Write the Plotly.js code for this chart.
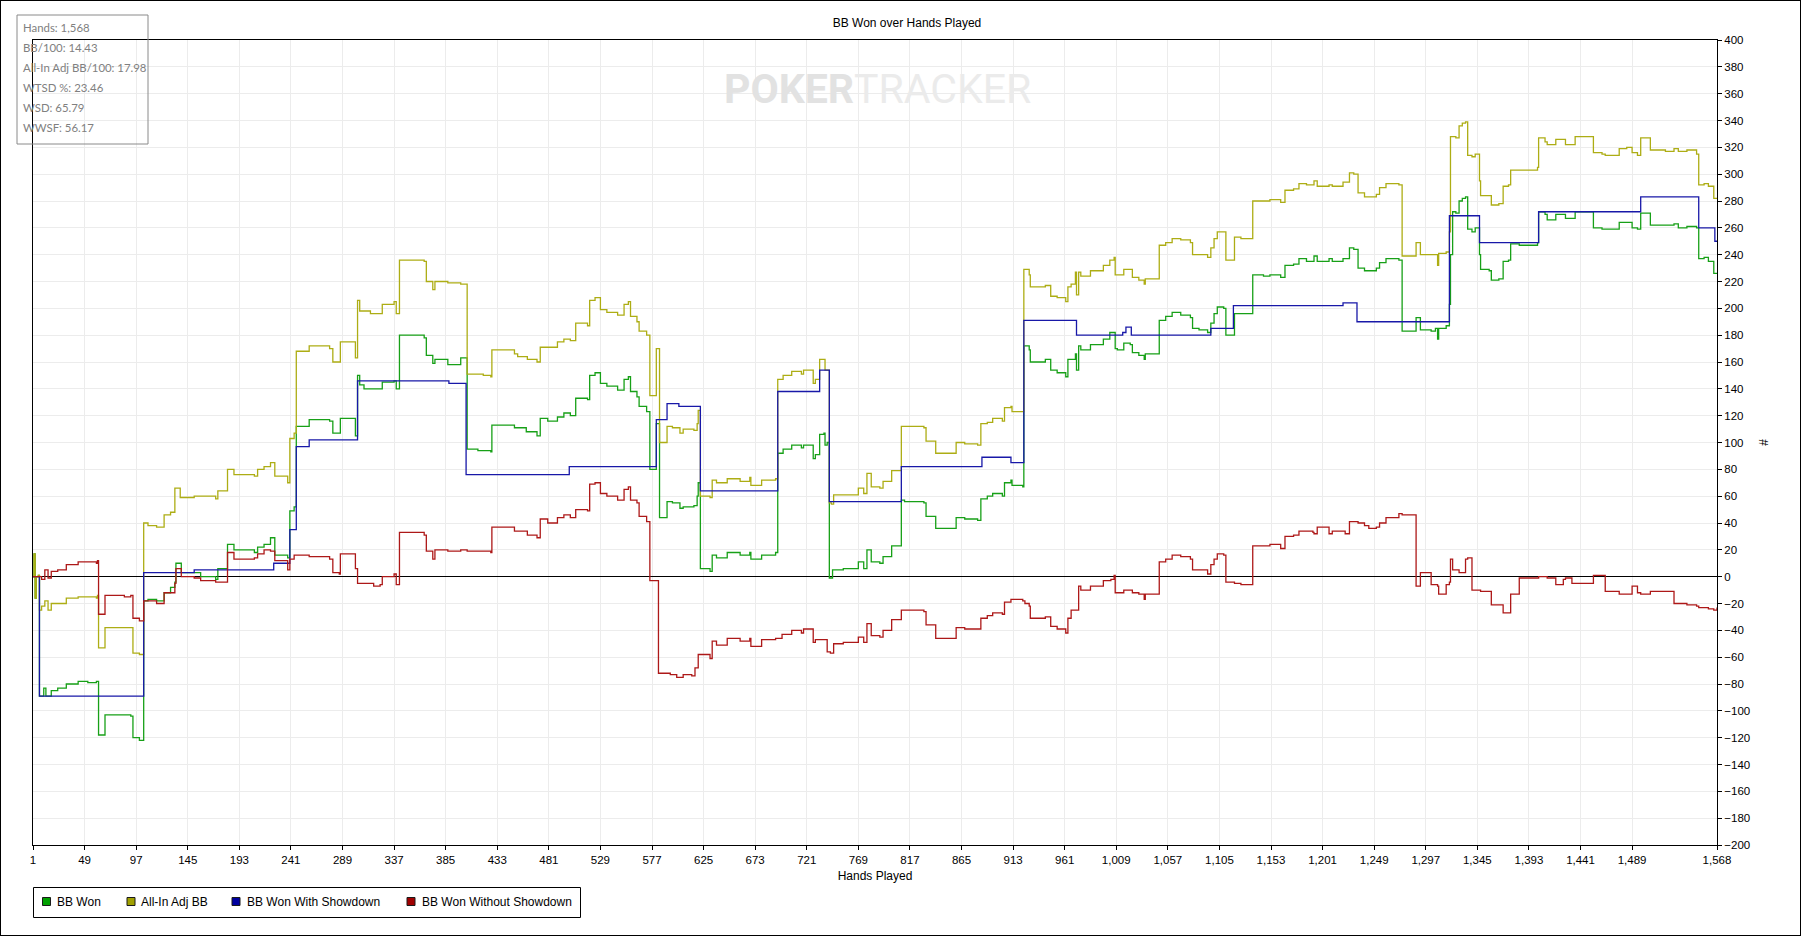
<!DOCTYPE html>
<html><head><meta charset="utf-8">
<script src="https://cdn.plot.ly/plotly-3.0.1.min.js"></script>
<style>
html,body{margin:0;padding:0;background:#fff;}
#wrap{position:relative;width:1801px;height:936px;}
#chart{width:1801px;height:936px;}
#frame{position:absolute;left:0;top:0;width:1801px;height:936px;box-sizing:border-box;border:1px solid #000;pointer-events:none;}
</style>
</head><body><div id="wrap"><div id="chart"></div><div id="frame"></div></div>
<script>
// ---------------- DATA ----------------
const seriesNames = ["BB Won", "All-In Adj BB", "BB Won With Showdown", "BB Won Without Showdown"];

const bbWonHands = [1,2,3,4,6,7,11,13,18,24,32,43,52,60,62,68,92,94,100,104,108,116,123,129,133,134,139,151,157,171,173,182,188,207,210,216,222,226,238,240,244,246,258,277,280,287,301,303,305,309,326,337,339,342,365,367,373,375,387,399,405,415,427,428,449,460,470,473,480,489,495,501,506,517,519,524,529,535,545,551,555,557,563,565,572,575,581,584,591,596,603,606,616,619,620,622,631,633,637,647,659,668,669,679,692,694,699,707,716,718,727,729,733,737,738,740,742,745,755,769,774,777,781,789,792,800,809,812,830,832,841,860,868,880,883,889,894,903,905,911,912,922,923,928,929,943,948,954,962,964,971,972,974,976,985,997,1003,1007,1008,1010,1016,1022,1024,1030,1035,1036,1049,1055,1061,1069,1078,1080,1086,1094,1097,1100,1103,1109,1111,1119,1136,1146,1152,1162,1166,1174,1179,1186,1193,1196,1207,1210,1220,1226,1230,1234,1240,1251,1254,1260,1272,1275,1288,1292,1302,1306,1308,1309,1316,1319,1320,1322,1325,1328,1331,1334,1336,1340,1343,1347,1348,1356,1358,1365,1369,1374,1376,1384,1401,1402,1408,1410,1418,1425,1427,1436,1453,1461,1464,1477,1484,1489,1494,1497,1506,1520,1528,1532,1540,1549,1551,1556,1560,1565,1568];
const bbWonValues = [0,17,-16,0,1,-89,-83,-89,-85,-83,-80,-78,-79,-78,-118,-103,-104,-120,-122,-18,-17,-18,-12,-8,-4,10,3,3,0,-2,6,24,20,18,22,24,29,16,14,49,52,112,117,116,107,118,105,150,143,140,145,146,140,180,178,165,159,162,158,163,95,94,93,113,111,108,105,118,116,119,122,120,133,132,150,152,144,142,139,147,149,138,134,127,123,80,114,44,56,55,51,52,53,60,70,6,4,16,14,18,16,18,13,16,18,92,95,98,96,98,88,91,106,107,98,100,-1,5,6,11,6,20,11,10,15,23,57,56,55,45,36,44,43,42,58,60,62,60,70,72,68,67,172,169,160,162,154,152,149,162,166,154,172,169,173,177,182,182,170,169,174,173,167,165,162,166,191,194,197,195,193,185,184,182,189,196,201,200,180,196,225,224,225,223,232,233,237,235,239,235,237,235,237,245,244,230,228,230,234,237,236,183,193,184,183,185,177,185,187,203,240,272,271,280,282,283,259,257,260,240,229,228,221,222,235,236,248,247,249,272,270,266,270,270,267,272,260,259,259,264,264,260,259,271,262,262,263,260,261,260,237,238,235,226,226];

const allInHands = [1,2,3,4,6,7,9,12,15,18,32,43,60,61,62,68,94,100,104,108,116,123,129,133,138,151,171,173,182,188,207,210,216,222,226,238,240,244,246,258,277,280,287,301,303,305,315,326,337,339,342,365,367,373,375,387,399,405,420,427,428,449,452,461,470,473,489,495,501,506,517,519,524,529,535,545,551,555,557,563,565,572,575,581,584,591,596,603,606,616,619,620,622,631,633,637,647,659,668,669,679,692,694,699,707,716,718,727,729,733,738,742,744,746,769,774,777,781,789,792,800,809,830,832,841,860,868,880,883,889,894,903,905,911,912,923,928,929,943,948,954,962,964,967,971,972,974,976,985,997,1003,1007,1008,1016,1024,1030,1035,1036,1049,1055,1061,1069,1078,1080,1094,1097,1100,1103,1109,1111,1119,1125,1136,1152,1162,1166,1174,1179,1186,1193,1196,1207,1210,1220,1226,1230,1234,1240,1251,1254,1260,1272,1275,1288,1292,1308,1309,1316,1319,1320,1325,1328,1331,1334,1336,1340,1343,1347,1348,1358,1365,1369,1374,1376,1401,1402,1408,1410,1418,1425,1427,1436,1453,1461,1464,1477,1484,1489,1494,1497,1506,1520,1528,1532,1540,1549,1551,1556,1560,1565,1568];
const allInValues = [0,17,-16,0,1,-25,-22,-18,-25,-20,-16,-15,-16,-14,-53,-38,-57,-58,40,38,37,46,48,66,59,60,58,64,80,76,75,80,82,85,75,70,103,107,168,172,170,160,175,163,206,198,196,203,205,196,236,235,220,214,220,219,218,151,150,149,169,166,164,162,160,171,175,177,176,189,187,206,208,199,197,195,203,205,194,190,183,180,135,170,100,112,111,107,110,109,114,124,60,59,72,70,73,71,74,68,72,73,147,150,153,151,154,144,147,162,154,55,54,61,66,62,77,67,66,71,79,112,111,101,92,100,99,98,114,115,118,116,126,127,123,229,225,216,217,209,208,205,216,218,227,210,227,224,228,232,236,238,225,229,223,221,218,222,247,249,252,251,249,240,238,245,252,257,257,236,253,252,280,281,279,288,289,293,292,295,291,292,291,294,301,300,286,283,285,290,293,292,239,249,240,232,241,242,257,328,327,336,338,339,314,313,315,295,284,277,278,291,292,303,305,327,324,322,326,326,322,328,316,315,314,319,320,316,314,327,318,317,319,317,318,315,292,293,291,282,282];

const withSdHands = [1,7,104,151,225,240,246,258,303,388,404,500,581,591,602,622,694,733,742,809,884,911,923,972,1015,1018,1023,1097,1118,1220,1233,1319,1347,1402,1497,1551,1566,1568];
const withSdValues = [0,-89,3,5,10,35,97,102,146,144,76,82,117,129,127,64,138,154,56,82,89,85,191,180,182,186,180,185,202,204,190,269,249,272,283,260,250,250];

const withoutSdHands = [1,7,9,12,15,18,24,32,43,60,61,62,68,86,92,94,100,104,116,123,133,134,139,151,157,171,182,188,207,210,216,222,226,238,240,244,258,277,280,286,287,301,303,318,324,326,337,339,342,365,367,373,375,387,399,405,427,428,449,461,470,473,480,489,495,501,506,517,519,524,529,535,545,551,555,557,563,565,572,575,583,594,600,606,614,617,620,631,633,637,647,659,668,669,679,692,698,707,716,718,727,729,740,743,746,755,769,774,777,781,789,792,800,809,830,832,841,860,868,880,883,889,894,903,905,911,922,924,928,929,943,948,954,962,964,967,974,976,985,997,1004,1007,1008,1016,1024,1030,1035,1036,1049,1055,1061,1069,1078,1080,1094,1097,1100,1103,1109,1111,1119,1125,1136,1152,1162,1166,1174,1179,1186,1192,1193,1196,1207,1210,1222,1226,1230,1234,1240,1244,1251,1254,1260,1272,1275,1288,1292,1302,1308,1309,1316,1319,1320,1322,1328,1334,1336,1340,1348,1358,1369,1376,1384,1392,1402,1410,1418,1425,1427,1433,1436,1453,1464,1477,1489,1494,1497,1506,1528,1532,1540,1549,1551,1560,1565,1568];
const withoutSdValues = [0,0,-2,5,-1,4,5,9,11,10,12,-28,-14,-15,-14,-31,-33,-18,-20,-12,-5,6,0,-1,-3,-4,18,13,14,17,20,19,12,5,13,16,15,13,3,2,17,6,-5,-7,-6,0,2,-6,33,31,19,13,20,19,20,19,18,37,34,31,29,43,40,44,46,44,50,49,69,70,62,60,57,65,67,57,55,45,41,-3,-72,-73,-75,-73,-74,-68,-58,-61,-48,-51,-46,-48,-46,-52,-47,-46,-43,-40,-42,-39,-49,-47,-56,-57,-50,-49,-45,-49,-35,-44,-45,-40,-32,-25,-26,-36,-46,-38,-39,-39,-31,-29,-27,-28,-19,-17,-18,-20,-22,-31,-30,-37,-39,-42,-31,-25,-7,-10,-7,-3,-2,1,-12,-10,-12,-13,-17,-13,11,13,16,15,13,5,2,9,13,17,16,-4,-5,-6,23,24,21,30,31,34,34,33,32,37,32,34,32,41,41,40,38,36,37,40,44,47,46,-7,3,-6,-7,-13,-6,-4,13,5,3,13,14,-10,-11,-21,-27,-13,-1,-1,0,-1,-6,-2,-1,-5,-5,1,-11,-13,-7,-12,-13,-11,-20,-20,-21,-22,-23,-24,-25,-23,-23];

const xTickVals = [1,49,97,145,193,241,289,337,385,433,481,529,577,625,673,721,769,817,865,913,961,1009,1057,1105,1153,1201,1249,1297,1345,1393,1441,1489,1568];

const statLabels = ["Hands", "BB/100", "All-In Adj BB/100", "WTSD %", "WSD", "WWSF"];
const statValues = ["1,568", "14.43", "17.98", "23.46", "65.79", "56.17"];

// ---------------- STYLE / LAYOUT ----------------
const colors = ["#17a017", "#adad14", "#1818a8", "#ad1818"];
const swatchColors = ["#00a000", "#a0a000", "#0000a0", "#a00000"];
const W = 1801, H = 936, L = 33, R = 84, T = 40, B = 91;
const PW = W - L - R, PH = H - T - B;
const fx = px => (px - L) / PW;
const fy = py => (H - B - py) / PH;
const FONT = "Liberation Sans, Arial, sans-serif";

const xs = [bbWonHands, allInHands, withSdHands, withoutSdHands];
const ys = [bbWonValues, allInValues, withSdValues, withoutSdValues];

const traces = [];
for (let i = 0; i < 4; i++) {
  traces.push({
    type: "scatter", mode: "lines", x: xs[i], y: ys[i], name: seriesNames[i],
    line: {color: colors[i], width: 1.3, shape: "hv"},
    showlegend: false, hoverinfo: "x+y+name"
  });
}

const annotations = [];
const shapes = [];

// stats box
for (let i = 0; i < statLabels.length; i++) {
  annotations.push({
    xref: "paper", yref: "paper", x: fx(21), y: fy(27.5 + 20 * i),
    xanchor: "left", yanchor: "middle", showarrow: false,
    text: statLabels[i] + ": " + statValues[i],
    font: {family: "Lato, Noto Sans, sans-serif", size: 11.4, color: "#808080"}
  });
}
shapes.push({
  type: "rect", xref: "paper", yref: "paper",
  x0: fx(17), x1: fx(148), y0: fy(15), y1: fy(144),
  line: {color: "#8a8a8a", width: 1}, fillcolor: "rgba(0,0,0,0)", layer: "above"
});

// watermark
annotations.push({
  xref: "paper", yref: "paper", x: fx(878), y: fy(89),
  xanchor: "center", yanchor: "middle", showarrow: false,
  text: '<b><span style="color:#e2e2e2">POKER</span></b><span style="color:#ebebeb">TRACKER</span>',
  font: {family: "Roboto, sans-serif", size: 41, color: "#e6e6e6"}
});

// legend (box, swatches, labels)
const legendSwatchX = [42.5, 127, 232, 407];
const legendTextX = [55, 138.5, 245, 419.5];
shapes.push({
  type: "rect", xref: "paper", yref: "paper",
  x0: fx(33.5), x1: fx(580.5), y0: fy(887.5), y1: fy(917.5),
  line: {color: "#000", width: 1}, fillcolor: "#fff", layer: "above"
});
for (let i = 0; i < 4; i++) {
  shapes.push({
    type: "rect", xref: "paper", yref: "paper",
    x0: fx(legendSwatchX[i]), x1: fx(legendSwatchX[i] + 8), y0: fy(897.5), y1: fy(905.5),
    line: {color: "#1a1a1a", width: 1}, fillcolor: swatchColors[i], layer: "above"
  });
  annotations.push({
    xref: "paper", yref: "paper", x: fx(legendTextX[i]), y: fy(902),
    xanchor: "left", yanchor: "middle", showarrow: false,
    text: seriesNames[i], font: {family: FONT, size: 12, color: "#000"}
  });
}

const layout = {
  width: W, height: H,
  margin: {l: L, r: R, t: T, b: B, pad: 0},
  paper_bgcolor: "#ffffff", plot_bgcolor: "#ffffff",
  font: {family: FONT, size: 12, color: "#000"},
  title: {text: "BB Won over Hands Played", xref: "container", yref: "container",
          x: 907 / W, y: 1 - 23 / H, xanchor: "center", yanchor: "middle",
          font: {family: FONT, size: 12, color: "#000"}},
  showlegend: false,
  xaxis: {
    range: [1, 1568], tickmode: "array", tickvals: xTickVals,
    ticktext: xTickVals.map(v => v.toLocaleString("en-US")),
    ticks: "outside", ticklen: 4, tickcolor: "#000", tickfont: {family: FONT, size: 11.5, color: "#000"},
    showline: true, mirror: true, linecolor: "#000", linewidth: 1,
    showgrid: true, gridcolor: "#ececec", gridwidth: 1, zeroline: false,
    title: {text: "Hands Played", font: {family: FONT, size: 12, color: "#000"}, standoff: 6},
    automargin: false
  },
  yaxis: {
    range: [-200, 400], tickmode: "linear", tick0: 0, dtick: 20, side: "right",
    ticks: "outside", ticklen: 4, tickcolor: "#000", tickfont: {family: FONT, size: 11.5, color: "#000"},
    showline: true, mirror: true, linecolor: "#000", linewidth: 1,
    showgrid: true, gridcolor: "#ececec", gridwidth: 1,
    zeroline: true, zerolinecolor: "#000", zerolinewidth: 1,
    title: {text: "#", font: {family: FONT, size: 12, color: "#000"}, standoff: 10},
    automargin: false
  },
  annotations: annotations,
  shapes: shapes
};

Plotly.newPlot("chart", traces, layout, {displayModeBar: false});
</script></body></html>
